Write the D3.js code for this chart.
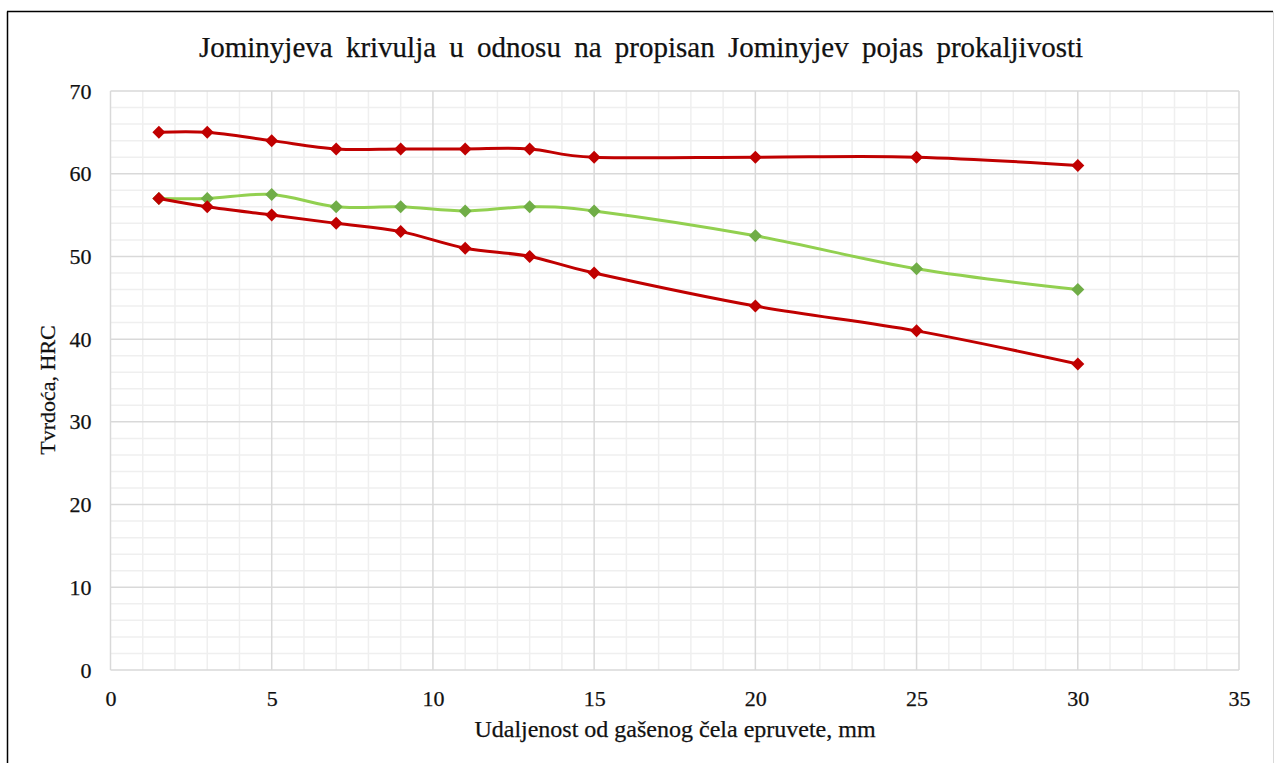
<!DOCTYPE html>
<html>
<head>
<meta charset="utf-8">
<script src="https://cdn.jsdelivr.net/npm/d3@7"></script>
<style>
  html, body { margin: 0; padding: 0; background: #fff; }
  svg { display: block; }
  text { font-family: "Liberation Serif", "Times New Roman", serif; fill: #111; stroke: #111; stroke-width: 0.25px; }
</style>
</head>
<body>
<svg id="chart" width="1274" height="763"></svg>
<script>
// Distance from the quenched end, mm
const distances = [1.5, 3, 5, 7, 9, 11, 13, 15, 20, 25, 30];
// Upper limit of the hardenability band, HRC
const bandMax = [65, 65, 64, 63, 63, 63, 63, 62, 62, 62, 61];
// Lower limit of the hardenability band, HRC
const bandMin = [57, 56, 55, 54, 53, 51, 50, 48, 44, 41, 37];
// Measured Jominy curve, HRC
const measured = [57, 57, 57.5, 56, 56, 55.5, 56, 55.5, 52.5, 48.5, 46];

const xTicks = [0, 5, 10, 15, 20, 25, 30, 35];
const yTicks = [0, 10, 20, 30, 40, 50, 60, 70];

const titleText = "Jominyjeva krivulja u odnosu na propisan Jominyjev pojas prokaljivosti";
const xTitle = "Udaljenost od gašenog čela epruvete, mm";
const yTitle = "Tvrdoća, HRC";

const svg = d3.select("#chart");

const plot = { left: 110.5, right: 1239, top: 91, bottom: 670 };
const x = d3.scaleLinear().domain([0, 35]).range([plot.left, plot.right]);
const y = d3.scaleLinear().domain([0, 70]).range([plot.bottom, plot.top]);

// Outer frame
svg.append("line").attr("x1", 7.5).attr("x2", 7.5).attr("y1", 11.5).attr("y2", 763)
  .attr("stroke", "#000").attr("stroke-width", 1.5);
svg.append("line").attr("x1", 7).attr("x2", 1273).attr("y1", 11.5).attr("y2", 11.5)
  .attr("stroke", "#000").attr("stroke-width", 1.5);
svg.append("line").attr("x1", 1273.5).attr("x2", 1273.5).attr("y1", 11.5).attr("y2", 763)
  .attr("stroke", "#d9d9d9").attr("stroke-width", 1);

// Minor gridlines
const g = svg.append("g");
g.selectAll("line.xminor").data(d3.range(0, 36, 1).filter(v => v % 5 !== 0)).join("line")
  .attr("x1", d => x(d)).attr("x2", d => x(d)).attr("y1", plot.top).attr("y2", plot.bottom)
  .attr("stroke", "#efefef").attr("stroke-width", 1.5);
g.selectAll("line.yminor").data(d3.range(0, 71, 2).filter(v => v % 10 !== 0)).join("line")
  .attr("x1", plot.left).attr("x2", plot.right).attr("y1", d => y(d)).attr("y2", d => y(d))
  .attr("stroke", "#efefef").attr("stroke-width", 1.5);

// Major gridlines
g.selectAll("line.xmajor").data(xTicks).join("line")
  .attr("x1", d => x(d)).attr("x2", d => x(d)).attr("y1", plot.top).attr("y2", plot.bottom)
  .attr("stroke", "#d9d9d9").attr("stroke-width", 1.5);
g.selectAll("line.ymajor").data(yTicks).join("line")
  .attr("x1", plot.left).attr("x2", plot.right).attr("y1", d => y(d)).attr("y2", d => y(d))
  .attr("stroke", "#d9d9d9").attr("stroke-width", 1.5);

// Axes (labels only)
const xAxis = svg.append("g").attr("transform", `translate(0,${plot.bottom})`)
  .call(d3.axisBottom(x).tickValues(xTicks).tickSize(0).tickPadding(18));
const yAxis = svg.append("g").attr("transform", `translate(${plot.left},0)`)
  .call(d3.axisLeft(y).tickValues(yTicks).tickSize(0).tickPadding(18));
[xAxis, yAxis].forEach(a => {
  a.select(".domain").remove();
  a.selectAll("text").attr("font-size", 22).attr("font-family", "Liberation Serif").attr("fill", "#111");
});
xAxis.selectAll("text").attr("dy", "0.71em").attr("y", 20);
yAxis.selectAll("text").attr("x", -19);

// Title and axis titles
svg.append("text").attr("x", 641).attr("y", 57).attr("text-anchor", "middle")
  .attr("font-size", 29).attr("word-spacing", 6).text(titleText);
svg.append("text").attr("x", 675).attr("y", 737).attr("text-anchor", "middle")
  .attr("font-size", 24).text(xTitle);
svg.append("text").attr("transform", `translate(55,${390}) rotate(-90)`).attr("text-anchor", "middle")
  .attr("font-size", 22).text(yTitle);

// Series
const series = [
  { values: bandMax, line: "#c00000", marker: "#c00000" },
  { values: measured, line: "#92d050", marker: "#70ad47" },
  { values: bandMin, line: "#c00000", marker: "#c00000" }
];
const lineGen = d3.line().x(d => x(d[0])).y(d => y(d[1])).curve(d3.curveCatmullRom.alpha(0));
const diamond = "M0,-6.5L6.5,0L0,6.5L-6.5,0Z";

// Draw measured first so the limit curves sit above it
const order = [1, 0, 2];
order.forEach(i => {
  const s = series[i];
  const pts = distances.map((d, k) => [d, s.values[k]]);
  svg.append("path").datum(pts).attr("d", lineGen)
    .attr("fill", "none").attr("stroke", s.line).attr("stroke-width", 3)
    .attr("stroke-linejoin", "round");
  svg.append("g").selectAll("path").data(pts).join("path")
    .attr("transform", d => `translate(${x(d[0])},${y(d[1])})`)
    .attr("d", diamond).attr("fill", s.marker);
});
</script>
</body>
</html>
